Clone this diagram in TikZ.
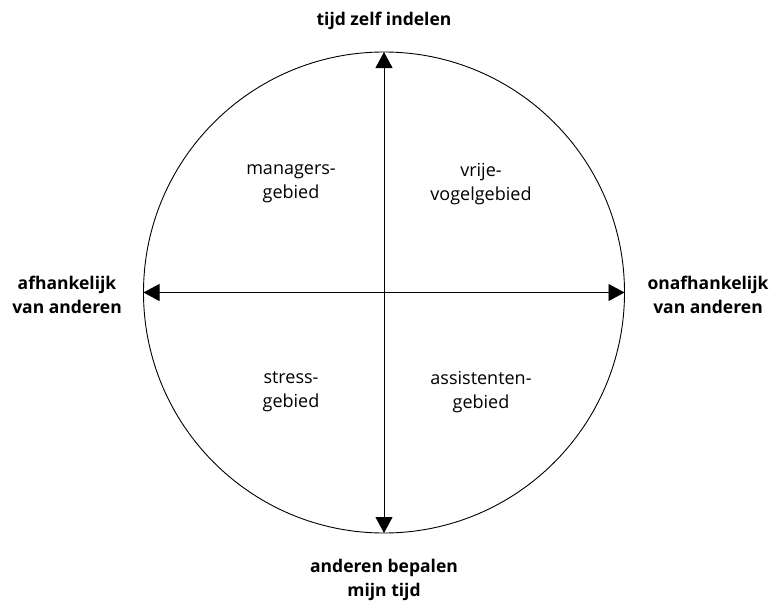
\documentclass[tikz,border=0pt]{standalone}
\usepackage{fontspec}
\setmainfont{Open Sans}
\usetikzlibrary{arrows.meta}
\begin{document}
\begin{tikzpicture}[x=1pt,y=-1pt,
  axis/.style={line width=0.9pt,-{Triangle[length=16pt,width=17pt]}},
  outer/.style={font=\fontsize{17.5}{24}\selectfont\bfseries,align=center,inner sep=0pt},
  inner/.style={font=\fontsize{18}{24}\selectfont,align=center,inner sep=0pt}]
\useasboundingbox (0,0) rectangle (776,608);
\coordinate (c) at (384,292.5);
\draw[line width=0.9pt] (c) circle[radius=240.5];
\coordinate (top) at (384,52);
\coordinate (bot) at (384,533);
\coordinate (lft) at (143.5,292.5);
\coordinate (rgt) at (624.5,292.5);
\draw[axis] (c) -- (top);
\draw[axis] (c) -- (bot);
\draw[axis] (c) -- (lft);
\draw[axis] (c) -- (rgt);
\node[outer] (t) at (384,21) {tijd zelf indelen};
\node[outer] (b) at (384,580) {anderen bepalen\\mijn tijd};
\node[outer] (l) at (67,295) {afhankelijk\\van anderen};
\node[outer] (r) at (708,295) {onafhankelijk\\van anderen};
\node[inner] (q1) at (291,184) {managers-\\gebied};
\node[inner] (q2) at (481,184) {vrije-\\vogelgebied};
\node[inner] (q3) at (291,392) {stress-\\gebied};
\node[inner] (q4) at (481,392) {assistenten-\\gebied};
\end{tikzpicture}
\end{document}
